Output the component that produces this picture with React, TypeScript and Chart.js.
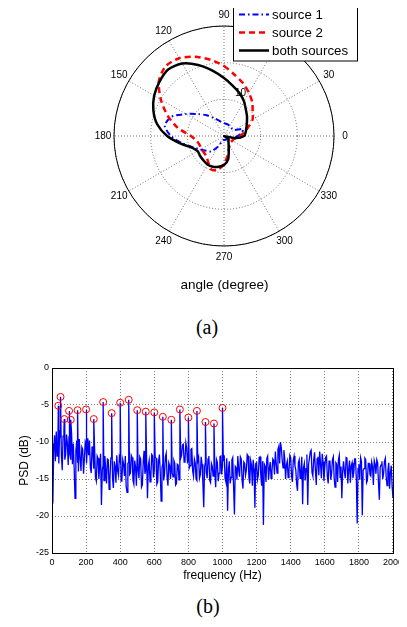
import React, { useEffect, useRef } from "react";
import { Chart, registerables } from "chart.js";

Chart.register(...registerables);

// ---------- (a) polar pattern data ----------
const POLAR_ANGLES = [0, 10, 20, 30, 40, 50, 60, 70, 80, 90, 100, 110, 120, 130, 140, 150, 160, 170,
  180, 190, 200, 210, 220, 230, 240, 250, 260, 270, 280, 290, 300, 310, 320, 330, 340, 350];
const SOURCE1 = [3.8, 4.9, 5.5, 3.3, 3.0, 3.0, 3.1, 3.3, 3.4, 3.5, 3.8, 4.6, 5.7, 7.4, 9.3, 12.0, 15.3, 16.4,
  14.5, 11.5, 9.0, 7.4, 6.3, 5.5, 3.5, 1.6, 1.1, 1.1, 1.1, 1.1, 1.1, 1.2, 1.2, 1.2, 1.6, 2.5];
const SOURCE2 = [4.4, 5.5, 7.0, 9.0, 10.2, 12.0, 13.6, 15.3, 16.9, 19.1, 21.1, 23.0, 24.5, 24.8, 23.2, 19.9, 16.4, 12.8,
  9.0, 7.6, 7.1, 7.1, 7.1, 7.4, 8.5, 9.8, 9.3, 7.6, 5.5, 3.8, 3.0, 2.6, 2.5, 2.6, 2.7, 3.3];
const BOTH = [5.5, 6.0, 6.5, 7.2, 8.2, 9.3, 10.9, 12.4, 13.9, 15.8, 18.1, 20.6, 22.8, 23.7, 23.0, 22.0, 20.5, 18.5,
  15.5, 12.0, 9.3, 8.3, 8.5, 8.7, 9.0, 8.9, 8.5, 7.9, 6.5, 3.8, 2.5, 1.9, 1.6, 1.4, 0.1, 3.3];
const RADIAL_TICKS = [10, 20, 30];
const ANGLE_LABELS = [0, 30, 60, 90, 120, 150, 180, 210, 240, 270, 300, 330];
const LEGEND_LABELS = ["source 1", "source 2", "both sources"];

// ---------- (b) PSD data ----------
const NOISE_STEP_HZ = 5;
const NOISE_DB = [
  -10.2, -18.3, -11.0, -9.1, -12.6, -8.6, -11.9, -9.7, -12.9, -8.4, -9.4, -11.8, -13.8, -9.2, -8.3, -12.4, -11.7, -9.0, -10.1, -13.1,
  -9.2, -11.3, -12.4, -8.9, -13.0, -10.2, -13.5, -17.6, -11.2, -9.8, -12.8, -14.0, -9.6, -12.1, -13.9, -10.7, -11.0, -14.3, -12.2, -10.0,
  -10.4, -12.9, -9.5, -11.8, -9.8, -13.4, -14.2, -10.6, -11.5, -13.6, -10.9, -14.8, -15.3, -11.9, -12.2, -15.0, -13.1, -11.6, -18.5, -13.8,
  -13.1, -15.2, -11.9, -13.7, -15.6, -12.3, -12.4, -16.4, -14.8, -12.2, -12.0, -14.9, -16.2, -12.6, -13.3, -15.5, -11.8, -13.9, -14.5, -12.1,
  -12.6, -15.3, -15.1, -12.4, -13.0, -14.6, -11.9, -16.0, -16.8, -12.9, -12.7, -14.4, -14.2, -11.8, -12.1, -15.2, -15.7, -12.5, -13.4, -15.9,
  -11.6, -13.8, -14.9, -12.0, -12.3, -16.1, -15.8, -12.7, -11.2, -14.3, -13.7, -12.4, -17.6, -13.2, -12.5, -15.4, -14.6, -11.7, -11.9, -14.8,
  -13.8, -12.0, -12.2, -15.7, -15.4, -12.6, -11.7, -14.1, -18.0, -13.5, -12.9, -15.2, -14.3, -12.0, -11.5, -14.7, -15.9, -12.8, -13.2, -15.0,
  -12.4, -14.2, -14.7, -12.5, -12.9, -15.8, -15.6, -13.0, -13.1, -15.1, -14.0, -12.2, -11.8, -10.4, -10.3, -12.7, -12.6, -10.1, -10.8, -12.9,
  -11.4, -13.5, -13.2, -11.0, -10.9, -13.9, -14.6, -12.3, -12.8, -15.0, -15.2, -12.6, -12.1, -14.9, -14.4, -12.0, -13.0, -15.6, -18.8, -13.4,
  -12.7, -14.1, -14.9, -12.3, -11.9, -15.2, -15.5, -12.9, -13.3, -14.6, -12.2, -13.9, -16.1, -12.4, -12.8, -15.3, -14.2, -12.0, -11.9, -14.4,
  -13.2, -12.6, -11.8, -14.9, -15.4, -12.2, -19.3, -13.7, -12.6, -15.6, -14.8, -12.4, -12.1, -16.0, -19.8, -13.3, -13.5, -15.1, -11.9, -13.8,
  -14.7, -12.0, -12.3, -15.2, -16.3, -12.7, -12.9, -14.5, -13.8, -11.7, -11.9, -14.8, -15.6, -12.5, -13.1, -15.9, -12.4, -13.6, -18.9, -12.9,
  -12.8, -15.1, -14.5, -12.1, -12.0, -14.7, -15.9, -12.6, -21.2, -13.0, -13.3, -15.4, -12.2, -11.9, -15.1, -13.6, -12.7, -14.9, -14.0, -12.3,
  -12.5, -14.4, -11.3, -12.8, -14.2, -11.0, -10.6, -12.9, -10.0, -10.8, -12.4, -13.5, -11.1, -12.2, -15.0, -13.1, -12.6, -14.8, -13.9, -11.8,
  -12.1, -14.6, -15.4, -12.5, -11.9, -13.2, -13.8, -15.7, -16.6, -12.8, -12.4, -14.9, -14.1, -12.0, -18.4, -13.5, -12.9, -15.2, -13.6, -11.7,
  -18.5, -13.0, -12.2, -11.3, -11.1, -14.1, -14.6, -12.4, -11.4, -13.8, -15.8, -12.3, -12.0, -14.5, -11.3, -12.9, -14.9, -11.6, -12.7, -15.3,
  -13.4, -12.1, -11.9, -14.7, -15.6, -12.6, -12.5, -15.1, -14.2, -12.4, -12.0, -14.9, -16.1, -12.8, -13.0, -15.4, -12.4, -11.8, -14.8, -13.3,
  -17.6, -13.9, -12.6, -14.0, -14.9, -12.1, -12.2, -15.6, -13.7, -12.5, -15.5, -13.2, -12.8, -14.9, -14.1, -12.3, -12.3, -15.0, -21.0, -13.6,
  -13.0, -15.1, -12.1, -12.6, -19.9, -13.8, -13.6, -12.2, -12.4, -15.5, -15.2, -12.9, -12.9, -14.4, -14.6, -12.7, -13.3, -15.8, -12.5, -13.0,
  -14.3, -12.4, -12.8, -15.6, -17.8, -13.4, -13.1, -12.6, -15.0, -14.2, -12.6, -12.2, -14.7, -15.9, -13.9, -12.8, -16.3, -14.1, -13.2, -16.0,
  -17.6,
];
const PEAK_FREQ = [37, 50, 72, 100, 110, 150, 200, 245, 300, 350, 400, 450, 500, 550, 600, 650, 700, 750, 800, 850, 900, 950, 1000];
const PEAK_DB = [-5.1, -3.9, -6.9, -5.8, -7.0, -5.7, -5.6, -6.9, -4.6, -6.1, -4.7, -4.3, -5.7, -5.9, -6.0, -6.6, -7.0, -5.6, -6.7, -5.8, -7.3, -7.5, -5.4];

const SANS = '"Liberation Sans", Arial, Helvetica, sans-serif';
const SERIF = '"Liberation Serif", "Times New Roman", serif';

const STYLES = [
  { color: "#0000ff", width: 2, dash: [6, 3, 1.5, 3] },
  { color: "#ff0000", width: 2.5, dash: [6, 4] },
  { color: "#000000", width: 2.5, dash: [] as number[] },
];

function PolarChart() {
  const ref = useRef<HTMLCanvasElement | null>(null);
  useEffect(() => {
    const canvas = ref.current;
    if (!canvas) return;
    const n = POLAR_ANGLES.length;
    const start = POLAR_ANGLES.indexOf(90);
    // radar goes clockwise from the top; polar angles go counter-clockwise from the right
    const order = POLAR_ANGLES.map((_, k) => (start - k + n) % n);
    const labels = order.map((i) => String(POLAR_ANGLES[i]));
    const series = [SOURCE1, SOURCE2, BOTH];

    const underlay = {
      id: "polarUnderlay",
      beforeDatasetsDraw(chart: any) {
        const s = chart.scales.r;
        const ctx = chart.ctx;
        ctx.save();
        ctx.setLineDash([]);
        ctx.strokeStyle = "#000";
        ctx.lineWidth = 1;
        ctx.beginPath();
        ctx.arc(s.xCenter, s.yCenter, s.getDistanceFromCenterForValue(30), 0, Math.PI * 2);
        ctx.stroke();
        ctx.fillStyle = "#000";
        ctx.font = `10px ${SANS}`;
        ctx.textAlign = "center";
        ctx.textBaseline = "middle";
        ANGLE_LABELS.forEach((a) => {
          const idx = order.indexOf(POLAR_ANGLES.indexOf(a));
          const p = s.getPointPosition(idx, s.drawingArea * 1.1);
          ctx.fillText(String(a), p.x, p.y);
        });
        ctx.textAlign = "left";
        ctx.textBaseline = "bottom";
        const sp = ctx.measureText("  ").width;
        const ang = (82 * Math.PI) / 180;
        RADIAL_TICKS.forEach((v) => {
          const d = s.getDistanceFromCenterForValue(v) * 1.05;
          ctx.fillText(String(v), s.xCenter + d * Math.cos(ang) + sp, s.yCenter - d * Math.sin(ang));
        });
        ctx.restore();
      },
      afterDraw(chart: any) {
        const s = chart.scales.r;
        const ctx = chart.ctx;
        ctx.save();
        ctx.fillStyle = "#000";
        ctx.font = `13.5px ${SANS}`;
        ctx.textAlign = "center";
        ctx.textBaseline = "middle";
        ctx.fillText("angle (degree)", s.xCenter + 0.5, s.yCenter + 149);
        // legend box
        const bx = 233.5, by = 2.5, bw = 124, bh = 58.5;
        ctx.fillStyle = "#fff";
        ctx.fillRect(bx, by, bw, bh);
        ctx.setLineDash([]);
        ctx.strokeStyle = "#000";
        ctx.lineWidth = 1;
        ctx.strokeRect(bx, by, bw, bh);
        ctx.font = `13.3px ${SANS}`;
        ctx.textAlign = "left";
        LEGEND_LABELS.forEach((t, i) => {
          const y = 14.5 + i * 18;
          const st = STYLES[i];
          ctx.beginPath();
          ctx.strokeStyle = st.color;
          ctx.lineWidth = st.width;
          ctx.setLineDash(st.dash);
          ctx.moveTo(239, y);
          ctx.lineTo(269, y);
          ctx.stroke();
          ctx.fillStyle = "#000";
          ctx.fillText(t, 272, y + 0.5);
        });
        ctx.restore();
      },
    };

    const chart = new Chart(canvas, {
      type: "radar",
      data: {
        labels,
        datasets: series.map((d, si) => ({
          label: LEGEND_LABELS[si],
          data: order.map((i) => d[i]),
          borderColor: STYLES[si].color,
          borderWidth: STYLES[si].width,
          borderDash: STYLES[si].dash,
          backgroundColor: "rgba(0,0,0,0)",
          fill: false,
          pointRadius: 0,
          pointHoverRadius: 0,
          tension: 0.25,
          order: 2 - si,
        })),
      },
      options: {
        responsive: false,
        animation: false,
        devicePixelRatio: 1,
        layout: { padding: { left: 114, top: 26, right: 73, bottom: 64 } },
        plugins: { legend: { display: false }, tooltip: { enabled: false } },
        scales: {
          r: {
            min: 0,
            max: 30,
            startAngle: 0,
            ticks: { display: false, stepSize: 10 },
            pointLabels: { display: false },
            grid: { circular: true, color: "rgba(0,0,0,0.55)", lineWidth: 1 },
            border: { dash: [1, 2] },
            angleLines: {
              display: true,
              lineWidth: 1,
              borderDash: [1, 2],
              color: (c: any) => (c.index % 3 === 0 ? "rgba(0,0,0,0.55)" : "rgba(0,0,0,0)"),
            },
          },
        } as any,
      },
      plugins: [underlay],
    } as any);
    return () => chart.destroy();
  }, []);
  return <canvas ref={ref} width={407} height={310} style={{ position: "absolute", left: -8, top: -8, width: 407, height: 310 }} />;
}

function PsdChart() {
  const ref = useRef<HTMLCanvasElement | null>(null);
  useEffect(() => {
    const canvas = ref.current;
    if (!canvas) return;
    const pts: { x: number; y: number }[] = NOISE_DB.map((v, i) => ({ x: i * NOISE_STEP_HZ, y: v }));
    PEAK_FREQ.forEach((f, i) => pts.push({ x: f, y: PEAK_DB[i] }));
    const line = pts
      .map((p, i) => ({ p, i }))
      .sort((a, b) => a.p.x - b.p.x || a.i - b.i)
      .map((o) => o.p);
    const peaks = PEAK_FREQ.map((f, i) => ({ x: f, y: PEAK_DB[i] }));

    const frame = {
      id: "frame",
      afterDatasetsDraw(chart: any) {
        const { left, top, right, bottom } = chart.chartArea;
        const ctx = chart.ctx;
        ctx.save();
        ctx.setLineDash([]);
        ctx.strokeStyle = "#000";
        ctx.lineWidth = 1;
        ctx.strokeRect(Math.round(left) + 0.5, Math.round(top) + 0.5, Math.round(right - left), Math.round(bottom - top));
        ctx.restore();
      },
    };

    const tickFont = { family: SANS, size: 9 };
    const titleFont = { family: SANS, size: 12 };
    const gridOpts = { color: "rgba(0,0,0,0.5)", lineWidth: 1, drawTicks: false };

    const chart = new Chart(canvas, {
      type: "scatter",
      data: {
        datasets: [
          {
            data: peaks,
            showLine: false,
            pointStyle: "circle",
            pointRadius: 3.5,
            pointHoverRadius: 3.5,
            borderColor: "#ff0000",
            backgroundColor: "rgba(0,0,0,0)",
            borderWidth: 1,
            order: 0,
          },
          {
            data: line,
            showLine: true,
            borderColor: "#0000ff",
            borderWidth: 1.3,
            pointRadius: 0,
            pointHoverRadius: 0,
            tension: 0,
            order: 1,
          },
        ],
      },
      options: {
        responsive: false,
        animation: false,
        devicePixelRatio: 1,
        layout: { padding: { left: 0, top: 13, right: 11, bottom: 0 } },
        plugins: { legend: { display: false }, tooltip: { enabled: false } },
        scales: {
          x: {
            type: "linear",
            min: 0,
            max: 2000,
            ticks: { stepSize: 200, font: tickFont, color: "#000", padding: 4, maxRotation: 0, autoSkip: false, callback: (v: any) => String(v) },
            grid: gridOpts,
            border: { display: false, dash: [1, 2] },
            title: { display: true, text: "frequency (Hz)", font: titleFont, color: "#000", padding: { top: 0, bottom: 4 } },
            afterFit: (s: any) => { s.height = 34; },
          },
          y: {
            type: "linear",
            min: -25,
            max: 0,
            ticks: { stepSize: 5, font: tickFont, color: "#000", padding: 3, callback: (v: any) => String(v) },
            grid: gridOpts,
            border: { display: false, dash: [1, 2] },
            title: { display: true, text: "PSD (dB)", font: titleFont, color: "#000", padding: { top: 17, bottom: 0 } },
            afterFit: (s: any) => { s.width = 52; },
          },
        },
      } as any,
      plugins: [frame],
    } as any);
    return () => chart.destroy();
  }, []);
  return <canvas ref={ref} width={407} height={232} style={{ position: "absolute", left: -8, top: 347, width: 407, height: 232 }} />;
}

const captionStyle: React.CSSProperties = {
  position: "absolute",
  transform: "translate(-50%, -50%)",
  fontFamily: SERIF,
  fontSize: 20,
  lineHeight: 1,
  whiteSpace: "nowrap",
  color: "#000",
};

export default function App() {
  return (
    <div style={{ position: "relative", width: 391, height: 611 }}>
      <PolarChart />
      <div style={{ ...captionStyle, left: 207 - 8, top: 327 - 8 }}>(a)</div>
      <PsdChart />
      <div style={{ ...captionStyle, left: 208 - 8, top: 606 - 8 }}>(b)</div>
    </div>
  );
}
